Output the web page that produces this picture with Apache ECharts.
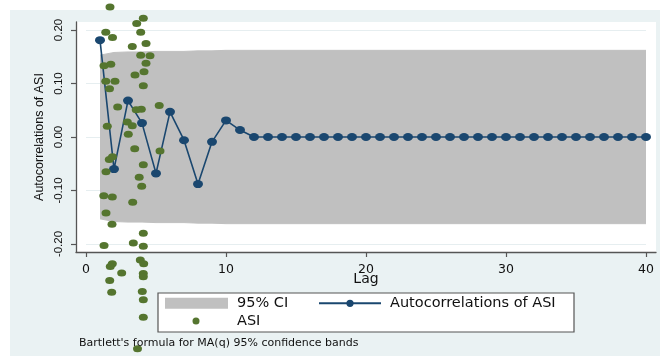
<!DOCTYPE html>
<html>
<head>
<meta charset="utf-8">
<script src="https://cdn.jsdelivr.net/npm/echarts@6/dist/echarts.min.js"></script>
<style>
  html, body { margin: 0; padding: 0; background: #fff; }
  #chart { width: 660px; height: 356px; }
</style>
</head>
<body>
<div id="chart"></div>
<script>
// Lags 1..40
const lags = [1,2,3,4,5,6,7,8,9,10,11,12,13,14,15,16,17,18,19,20,
              21,22,23,24,25,26,27,28,29,30,31,32,33,34,35,36,37,38,39,40];

// Sample autocorrelations of ASI
const acfValues = [0.181,-0.060,0.068,0.026,-0.068,0.047,-0.006,-0.088,-0.009,0.031,
                   0.013,0.000,0.000,0.000,0.000,0.000,0.000,0.000,0.000,0.000,
                   0.000,0.000,0.000,0.000,0.000,0.000,0.000,0.000,0.000,0.000,
                   0.000,0.000,0.000,0.000,0.000,0.000,0.000,0.000,0.000,0.000];

// Half-width of the Bartlett 95% confidence band at each lag
const ciHalfWidth = [0.153,0.158,0.159,0.159,0.160,0.160,0.160,0.161,0.161,0.162,
                     0.162,0.162,0.162,0.162,0.162,0.162,0.162,0.162,0.162,0.162,
                     0.162,0.162,0.162,0.162,0.162,0.162,0.162,0.162,0.162,0.162,
                     0.162,0.162,0.162,0.162,0.162,0.162,0.162,0.162,0.162,0.162];

// ASI observations overlaid on the lag axis
const asiX = [1.714,4.093,3.621,1.414,1.893,3.907,3.307,4.286,3.907,4.571,
              1.286,1.771,4.286,3.500,4.143,1.414,2.071,1.679,4.093,2.264,
              3.586,3.950,5.229,1.521,2.950,3.307,3.021,3.479,5.286,1.664,
              1.893,4.093,1.429,3.800,3.979,1.271,1.879,3.336,1.429,1.857,
              4.093,1.286,3.379,4.093,1.879,1.736,3.879,4.121,2.550,4.093,
              4.093,1.693,1.836,4.021,4.093,4.093,3.679];
const asiY = [0.243,0.222,0.212,0.196,0.186,0.196,0.169,0.175,0.153,0.152,
              0.133,0.136,0.138,0.116,0.122,0.104,0.104,0.090,0.096,0.056,
              0.051,0.052,0.059,0.020,0.028,0.021,0.005,-0.022,-0.026,-0.042,
              -0.037,-0.052,-0.065,-0.075,-0.092,-0.110,-0.112,-0.122,-0.142,-0.163,
              -0.180,-0.203,-0.198,-0.204,-0.237,-0.242,-0.230,-0.237,-0.254,-0.255,
              -0.261,-0.268,-0.290,-0.289,-0.304,-0.337,-0.396];

const xTicks = { min: 0, max: 40, step: 10 };
const yTicks = { min: -0.2, max: 0.2, step: 0.1 };

const navy = '#1a476f';
const green = '#55752f';
const bandGray = '#c0c0c0';
const axisGray = '#555555';
const sansAxis = 'Liberation Sans, Arial, sans-serif';
const sansWide = 'DejaVu Sans, Verdana, sans-serif';

const acfData = lags.map((l, i) => [l, acfValues[i]]);
const ciUpper = lags.map((l, i) => [l, ciHalfWidth[i]]);
const ciLower = lags.map((l, i) => [l, -ciHalfWidth[i]]);
const asiData = asiX.map((x, i) => [x, asiY[i]]);

const chart = echarts.init(document.getElementById('chart'), null, { renderer: 'canvas' });

const legendText = { fontFamily: sansWide, fontSize: 14.5, lineHeight: 16, color: '#111' };

chart.setOption({
  animation: false,
  backgroundColor: 'transparent',
  graphic: [
    { type: 'rect', z: -10, shape: { x: 10, y: 10, width: 650, height: 346 },
      style: { fill: '#eaf2f3' }, silent: true },
    { type: 'rect', z: 3, shape: { x: 158, y: 293, width: 416, height: 39 },
      style: { fill: '#ffffff', stroke: axisGray, lineWidth: 1.2 }, silent: true }
  ],
  title: {
    text: "Bartlett's formula for MA(q) 95% confidence bands",
    left: 79, top: 338, padding: 0,
    textStyle: { fontFamily: sansWide, fontSize: 11, fontWeight: 'normal', color: '#111' }
  },
  legend: [
    { data: [{ name: '95% CI', icon: 'rect', itemStyle: { color: bandGray } }],
      left: 165, top: 295.3, padding: 0, itemWidth: 63, itemHeight: 11,
      selectedMode: false,
      textStyle: Object.assign({ padding: [0, 0, 0, 4] }, legendText) },
    { data: ['Autocorrelations of ASI'],
      left: 318, top: 295.3, padding: 0, itemWidth: 62, itemHeight: 9,
      selectedMode: false,
      textStyle: Object.assign({ padding: [0, 0, 0, 4] }, legendText) },
    { data: ['ASI'],
      left: 192.5, top: 313, padding: 0, itemWidth: 8, itemHeight: 7,
      selectedMode: false,
      textStyle: Object.assign({ padding: [0, 0, 0, 32] }, legendText) }
  ],
  grid: [
    // plot region frame
    { left: 76, top: 22, width: 580, height: 230, show: true,
      backgroundColor: '#ffffff', borderWidth: 0 },
    // data area: lag 0..40, ACF -0.2..0.2
    { left: 86, top: 30, width: 560, height: 214 }
  ],
  xAxis: [
    { gridIndex: 0, type: 'value', min: 0, max: 1,
      axisLine: { show: true, onZero: false, lineStyle: { color: axisGray, width: 1.3 } },
      axisTick: { show: false }, axisLabel: { show: false }, splitLine: { show: false } },
    { gridIndex: 1, type: 'value', min: xTicks.min, max: xTicks.max, interval: xTicks.step,
      offset: 8,
      axisLine: { show: false, onZero: false },
      axisTick: { show: true, length: 5, lineStyle: { color: axisGray, width: 1.2 } },
      axisLabel: { margin: 11, fontFamily: sansWide, fontSize: 12.5, color: '#111' },
      splitLine: { show: false },
      name: 'Lag', nameLocation: 'middle', nameGap: 20.5, nameMoveOverlap: false,
      nameTextStyle: { fontFamily: sansWide, fontSize: 14, color: '#111' } }
  ],
  yAxis: [
    { gridIndex: 0, type: 'value', min: 0, max: 1,
      axisLine: { show: true, onZero: false, lineStyle: { color: axisGray, width: 1.3 } },
      axisTick: { show: false }, axisLabel: { show: false }, splitLine: { show: false } },
    { gridIndex: 1, type: 'value', min: yTicks.min, max: yTicks.max, interval: yTicks.step,
      offset: 10,
      axisLine: { show: false, onZero: false },
      axisTick: { show: true, length: 5, lineStyle: { color: axisGray, width: 1.2 } },
      axisLabel: { rotate: 90, margin: 11, fontFamily: sansAxis, fontSize: 11.5, color: '#111',
                   formatter: v => v.toFixed(2) },
      splitLine: { show: true, lineStyle: { color: '#e6eef0', width: 1 } },
      name: 'Autocorrelations of ASI', nameLocation: 'middle', nameGap: 30, nameMoveOverlap: false,
      nameTextStyle: { fontFamily: sansAxis, fontSize: 12.5, color: '#111' } }
  ],
  series: [
    { name: '95% CI', type: 'line', xAxisIndex: 1, yAxisIndex: 1, z: 1,
      data: ciUpper, symbol: 'none', color: bandGray,
      lineStyle: { color: bandGray, width: 1 },
      areaStyle: { color: bandGray, opacity: 1, origin: 'auto' }, silent: true },
    { name: 'ciLower', type: 'line', xAxisIndex: 1, yAxisIndex: 1, z: 1,
      data: ciLower, symbol: 'none', color: bandGray,
      lineStyle: { color: bandGray, width: 1 },
      areaStyle: { color: bandGray, opacity: 1, origin: 'auto' }, silent: true },
    { name: 'Autocorrelations of ASI', type: 'line', xAxisIndex: 1, yAxisIndex: 1, z: 2,
      data: acfData, clip: false,
      symbol: 'circle', symbolSize: [10, 8], showAllSymbol: true,
      color: navy,
      itemStyle: { color: navy },
      lineStyle: { color: navy, width: 1.6 } },
    { name: 'ASI', type: 'scatter', xAxisIndex: 1, yAxisIndex: 1, z: 3,
      data: asiData, clip: false,
      symbol: 'circle', symbolSize: [9, 7],
      itemStyle: { color: green, opacity: 1 } }
  ]
});
</script>
</body>
</html>
